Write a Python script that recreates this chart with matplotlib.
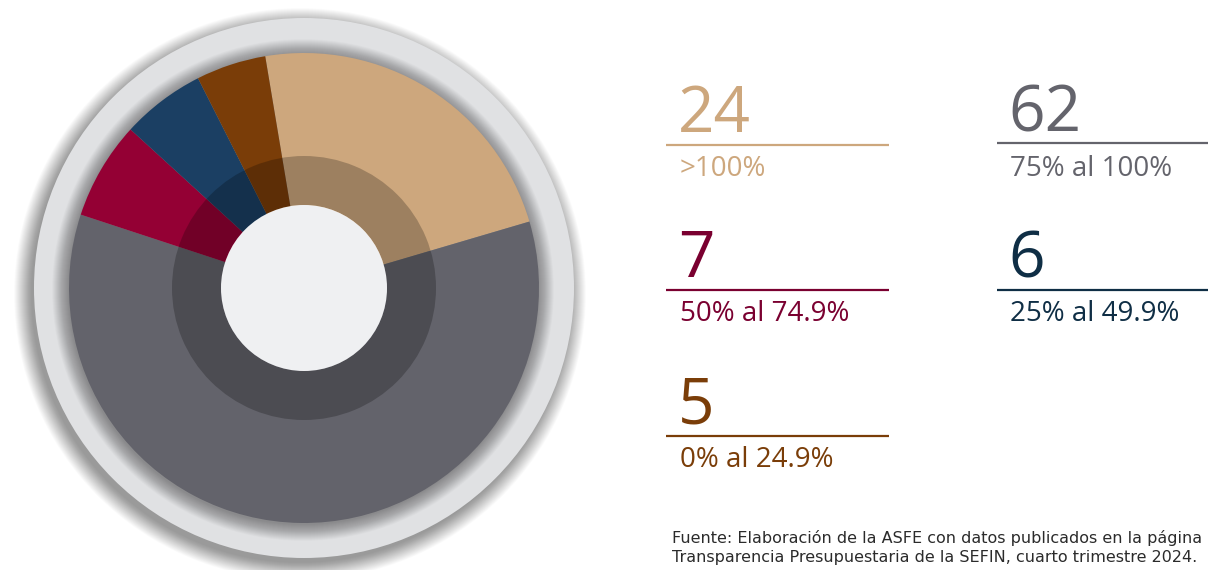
import matplotlib
matplotlib.use("Agg")
import matplotlib.pyplot as plt
from matplotlib.patches import Circle, Wedge

# ==================== data ====================
values = [24, 62, 7, 6, 5]
ranges = ['>100%', '75% al 100%', '50% al 74.9%', '25% al 49.9%', '0% al 24.9%']
wedge_colors = ['#CDA77D', '#63636B', '#940034', '#1B3F63', '#7A3D08']
text_colors = ['#CDA77D', '#64646C', '#7A0030', '#0F2E45', '#7A3D08']
source_lines = ["Fuente: Elaboración de la ASFE con datos publicados en la página",
                "Transparencia Presupuestaria de la SEFIN, cuarto trimestre 2024."]

W, H = 1208, 570
FONT = ['Open Sans', 'DejaVu Sans']

fig = plt.figure(figsize=(W / 100, H / 100), dpi=100)
ax = fig.add_axes([0, 0, 1, 1])


def Y(y):
    # pixel row (top down) -> axis y
    return H - y


cx, cy = 304, Y(288)
r_disc, r_pie, r_ring, r_hole = 270, 235, 132, 83

# soft drop shadow of the outer disc (falls down-left)
for i in range(36):
    ax.add_patch(Circle((cx - 4, cy - 6), r_disc + 16 - i * 0.5,
                        fc='black', ec='none', alpha=0.012, zorder=1))
ax.add_patch(Circle((cx, cy), r_disc, fc='#E0E1E3', ec='none', zorder=2))

# shadow of the pie onto the disc
for i in range(34):
    ax.add_patch(Circle((cx - 1, cy - 2), r_pie + 16 - i * 0.5,
                        fc='black', ec='none', alpha=0.013, zorder=3))

# pie
wedges, _ = ax.pie(values, colors=wedge_colors, startangle=99.5, counterclock=False,
                   radius=r_pie, center=(cx, cy), frame=True,
                   wedgeprops=dict(linewidth=0))
for w in wedges:
    w.set_zorder(4)

# darker inner ring and centre hole
ax.add_patch(Wedge((cx, cy), r_ring, 0, 360, width=r_ring - r_hole,
                   fc='black', ec='none', alpha=0.23, zorder=5))
ax.add_patch(Circle((cx, cy), r_hole, fc='#EFF0F2', ec='none', zorder=6))

ax.set_xlim(0, W)
ax.set_ylim(0, H)
ax.set_aspect('auto')
ax.axis('off')

# ==================== legend blocks ====================
# (text x, line x0, line x1, line y, number baseline, label baseline)
blocks = [
    (680, 666, 889, 145, 132, 176),
    (1010, 997, 1208, 143, 132, 176),
    (680, 666, 889, 290, 277, 321),
    (1010, 997, 1208, 290, 277, 321),
    (680, 666, 889, 436, 423, 467),
]
for v, lab, col, (tx, x0, x1, ly, nb, lb) in zip(values, ranges, text_colors, blocks):
    ax.text(tx - 2, Y(nb), str(v), color=col, fontsize=46, family=FONT,
            ha='left', va='baseline')
    ax.plot([x0, x1], [Y(ly), Y(ly)], color=col, lw=1.6, solid_capstyle='butt')
    ax.text(tx, Y(lb), lab, color=col, fontsize=20, family=FONT,
            ha='left', va='baseline')

for line, base in zip(source_lines, [543, 562]):
    ax.text(672, Y(base), line, color='#2B2B2B', fontsize=11.5,
            family=['DejaVu Sans'], ha='left', va='baseline')

fig.savefig('out.png', dpi=100, facecolor='white')
